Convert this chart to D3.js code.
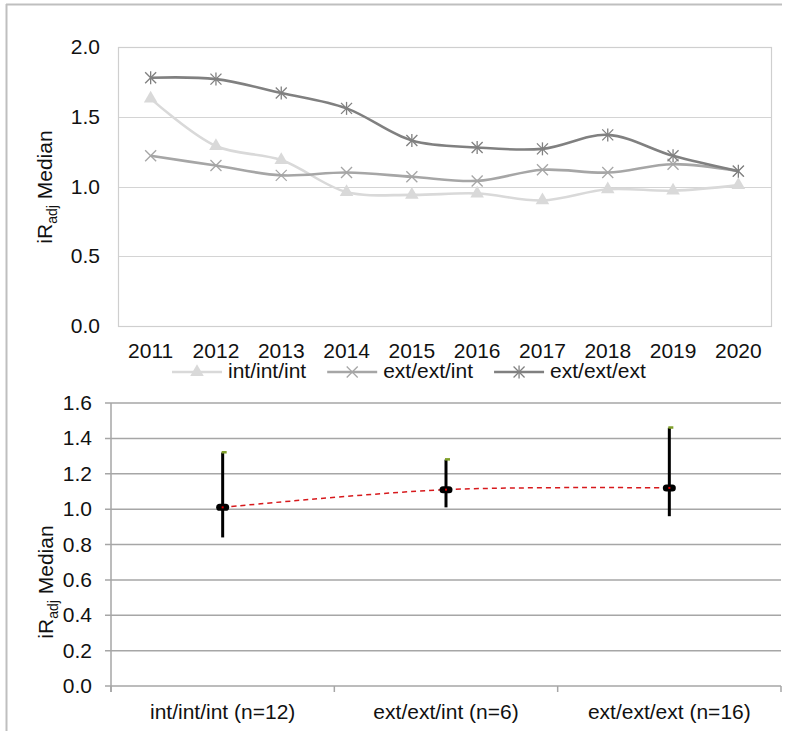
<!DOCTYPE html>
<html>
<head>
<meta charset="utf-8">
<script src="https://cdn.jsdelivr.net/npm/d3@7"></script>
<style>
body { margin: 0; background: #fff; }
text { font-family: "Liberation Sans", Arial, sans-serif; fill: #111; }
</style>
</head>
<body>
<script>
(function () {

// top chart: yearly medians
var years = ["2011", "2012", "2013", "2014", "2015", "2016", "2017", "2018", "2019", "2020"];
var intIntInt = [1.63, 1.29, 1.19, 0.96, 0.94, 0.95, 0.90, 0.98, 0.97, 1.01];
var extExtInt = [1.22, 1.15, 1.08, 1.10, 1.07, 1.04, 1.12, 1.10, 1.16, 1.11];
var extExtExt = [1.78, 1.77, 1.67, 1.56, 1.33, 1.28, 1.27, 1.37, 1.22, 1.11];
var seriesNames = ["int/int/int", "ext/ext/int", "ext/ext/ext"];
var topTicks = [0, 0.5, 1.0, 1.5, 2.0];

// bottom chart: group medians with ranges
var groups = ["int/int/int (n=12)", "ext/ext/int (n=6)", "ext/ext/ext (n=16)"];
var medians = [1.01, 1.11, 1.12];
var highs = [1.32, 1.28, 1.46];
var lows = [0.84, 1.01, 0.96];
var bottomTicks = [0, 0.2, 0.4, 0.6, 0.8, 1.0, 1.2, 1.4, 1.6];

var SX = 1.05; // text looks a bit wide in the picture
var fmt = d3.format(".1f");

var svg = d3.select("body").append("svg")
  .attr("width", 790)
  .attr("height", 731);

// outer frame (top + left only)
svg.append("line").attr("x1", 6).attr("x2", 782).attr("y1", 4.5).attr("y2", 4.5)
  .attr("stroke", "#bfbfbf").attr("stroke-width", 2);
svg.append("line").attr("x1", 6.5).attr("x2", 6.5).attr("y1", 4).attr("y2", 731)
  .attr("stroke", "#bfbfbf").attr("stroke-width", 2);

function label(g, x, y, str, anchor, size) {
  return g.append("text")
    .attr("transform", "translate(" + x + "," + y + ") scale(" + SX + ",1)")
    .attr("text-anchor", anchor)
    .style("font-size", (size || 20) + "px")
    .text(str);
}

function yTitle(g, x, y) {
  var t = g.append("text")
    .attr("transform", "translate(" + x + "," + y + ") rotate(-90)")
    .attr("text-anchor", "middle")
    .style("font-size", "21px");
  t.append("tspan").text("iR");
  t.append("tspan").attr("dy", 5).style("font-size", "14px").text("adj");
  t.append("tspan").attr("dy", -5).text(" Median");
}

// ---------------- top chart ----------------
var top = svg.append("g");
var x1 = d3.scaleBand().domain(years).range([118, 771]);
var y1 = d3.scaleLinear().domain([0, 2]).range([326, 47]);
var cx1 = function (d) { return x1(d) + x1.bandwidth() / 2; };

top.selectAll(".grid").data(topTicks).enter().append("line")
  .attr("x1", 118).attr("x2", 771)
  .attr("y1", function (d) { return Math.round(y1(d)) + 0.5; })
  .attr("y2", function (d) { return Math.round(y1(d)) + 0.5; })
  .attr("stroke", "#d4d4d4").attr("stroke-width", 1.2);

top.append("rect")
  .attr("x", 118.5).attr("y", 47.5).attr("width", 653).attr("height", 279)
  .attr("fill", "none").attr("stroke", "#cfcfcf").attr("stroke-width", 1.2);

topTicks.forEach(function (t) {
  label(top, 100, y1(t) + 7, fmt(t), "end");
});
years.forEach(function (yr) {
  label(top, cx1(yr), 358, yr, "middle");
});
yTitle(top, 52, 187);

var series = [
  { name: seriesNames[0], values: intIntInt, color: "#d9d9d9", marker: "tri" },
  { name: seriesNames[1], values: extExtInt, color: "#a6a6a6", marker: "x" },
  { name: seriesNames[2], values: extExtExt, color: "#808080", marker: "star" }
];

var line1 = d3.line()
  .x(function (d, i) { return cx1(years[i]); })
  .y(function (d) { return y1(d); })
  .curve(d3.curveCatmullRom.alpha(0.5));

function drawMarker(g, kind, color, x, y) {
  if (kind === "tri") {
    g.append("path")
      .attr("d", d3.symbol().type(d3.symbolTriangle).size(80)())
      .attr("transform", "translate(" + x + "," + y + ")")
      .attr("fill", color);
  } else {
    var r = 5.5;
    var segs = [[-r, -r, r, r], [-r, r, r, -r]];
    if (kind === "star") segs.push([0, -r - 1, 0, r + 1]);
    segs.forEach(function (s) {
      g.append("line")
        .attr("x1", x + s[0]).attr("y1", y + s[1])
        .attr("x2", x + s[2]).attr("y2", y + s[3])
        .attr("stroke", color).attr("stroke-width", 1.3);
    });
  }
}

series.forEach(function (s) {
  top.append("path")
    .attr("d", line1(s.values))
    .attr("fill", "none")
    .attr("stroke", s.color)
    .attr("stroke-width", 2.6);
  s.values.forEach(function (v, i) {
    drawMarker(top, s.marker, s.color, cx1(years[i]), y1(v));
  });
});

// legend
var legX = 172, legY = 372;
series.forEach(function (s) {
  top.append("line")
    .attr("x1", legX).attr("x2", legX + 50)
    .attr("y1", legY).attr("y2", legY)
    .attr("stroke", s.color).attr("stroke-width", 2.6);
  drawMarker(top, s.marker, s.color, legX + 25, legY);
  var t = label(top, legX + 56, legY + 6, s.name, "start");
  legX += 56 + t.node().getComputedTextLength() * SX + 21;
});

// ---------------- bottom chart ----------------
var bot = svg.append("g");
var x2 = d3.scaleBand().domain(groups).range([111, 781]);
var y2 = d3.scaleLinear().domain([0, 1.6]).range([686, 403]);
var cx2 = function (d) { return x2(d) + x2.bandwidth() / 2; };

bot.selectAll(".grid").data(bottomTicks).enter().append("line")
  .attr("x1", 105).attr("x2", 781)
  .attr("y1", function (d) { return y2(d); })
  .attr("y2", function (d) { return y2(d); })
  .attr("stroke", "#a6a6a6").attr("stroke-width", 1.5);

bot.append("line")
  .attr("x1", 111).attr("x2", 111).attr("y1", 403).attr("y2", 692)
  .attr("stroke", "#a6a6a6").attr("stroke-width", 1.5);

var bounds = groups.map(function (g) { return x2(g); }).concat([x2.range()[1]]);
bounds.forEach(function (b) {
  bot.append("line")
    .attr("x1", b).attr("x2", b).attr("y1", 686).attr("y2", 692)
    .attr("stroke", "#a6a6a6").attr("stroke-width", 1.5);
});

bottomTicks.forEach(function (t) {
  label(bot, 92, y2(t) + 7, fmt(t), "end");
});
groups.forEach(function (g) {
  label(bot, cx2(g), 719, g, "middle");
});
yTitle(bot, 53, 582);

var line2 = d3.line()
  .x(function (d, i) { return cx2(groups[i]); })
  .y(function (d) { return y2(d); })
  .curve(d3.curveCatmullRom.alpha(0.5));

bot.append("path")
  .attr("d", line2(medians))
  .attr("fill", "none")
  .attr("stroke", "#d7191c")
  .attr("stroke-width", 1.5)
  .attr("stroke-dasharray", "5,4");

groups.forEach(function (g, i) {
  var cx = cx2(g);
  bot.append("line")
    .attr("x1", cx).attr("x2", cx)
    .attr("y1", y2(lows[i])).attr("y2", y2(highs[i]))
    .attr("stroke", "#000").attr("stroke-width", 3);
  bot.append("rect")
    .attr("x", cx - 1).attr("y", y2(highs[i]) - 1.5)
    .attr("width", 5).attr("height", 2.5)
    .attr("fill", "#7f9f2a");
  bot.append("rect")
    .attr("x", cx - 6.5).attr("y", y2(medians[i]) - 3.5)
    .attr("width", 13).attr("height", 7)
    .attr("rx", 3.5)
    .attr("fill", "#000");
  bot.append("rect")
    .attr("x", cx - 1).attr("y", y2(medians[i]) - 1)
    .attr("width", 2).attr("height", 2)
    .attr("fill", "#e00000");
});

})();
</script>
</body>
</html>
